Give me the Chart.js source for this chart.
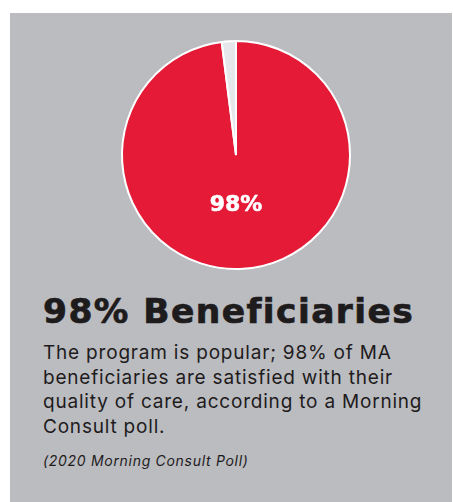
<!DOCTYPE html>
<html>
<head>
<meta charset="utf-8">
<script src="https://cdn.jsdelivr.net/npm/chart.js@4/dist/chart.umd.min.js"></script>
<style>
  html, body { margin: 0; padding: 0; background: #ffffff; width: 453px; height: 502px; overflow: hidden; }
  #panel { position: absolute; left: 10px; top: 13px; width: 442px; height: 489px; background: #bbbcc0; }
  #chartBox { position: absolute; left: 116px; top: 35px; width: 240px; height: 240px; }
  #title { position: absolute; left: 43px; top: 291px; margin: 0; font-family: "DejaVu Sans", sans-serif; font-weight: 700; font-size: 34.5px; line-height: 40px; color: #1e1b1c; letter-spacing: 1.4px; -webkit-text-stroke: 0.7px #1e1b1c; white-space: nowrap; }
  #desc { position: absolute; left: 43px; top: 341px; width: 410px; margin: 0; font-family: Inter, "Liberation Sans", sans-serif; font-weight: 400; font-size: 19px; line-height: 24.5px; color: #1e1b1c; letter-spacing: 0.8px; white-space: nowrap; }
  #source { position: absolute; left: 43px; top: 453px; margin: 0; font-family: Inter, "Liberation Sans", sans-serif; font-style: italic; font-size: 14px; line-height: 16px; color: #1e1b1c; letter-spacing: 0.7px; }
</style>
</head>
<body>
<div id="panel"></div>
<div id="chartBox"><canvas id="c"></canvas></div>
<h1 id="title">98% Beneficiaries</h1>
<p id="desc">The program is popular; 98% of MA<br>beneficiaries are satisfied with their<br>quality of care, according to a Morning<br>Consult poll.</p>
<p id="source">(2020 Morning Consult Poll)</p>
<script>
const categories = ["Satisfied", "Not satisfied"];
const values = [98, 2];
const sliceLabels = ["98%", ""];
const sliceColors = ["#e41a37", "#e6e7ea"];

const labelPlugin = {
  id: "sliceLabels",
  afterDatasetsDraw(chart) {
    const ctx = chart.ctx;
    const meta = chart.getDatasetMeta(0);
    meta.data.forEach((arc, i) => {
      const text = sliceLabels[i];
      if (!text) return;
      const x = arc.x;
      const y = arc.y + arc.outerRadius * 0.44;
      ctx.save();
      ctx.fillStyle = "#ffffff";
      ctx.strokeStyle = "#ffffff";
      ctx.lineWidth = 0.6;
      ctx.font = "700 22px 'DejaVu Sans', sans-serif";
      ctx.textAlign = "center";
      ctx.textBaseline = "middle";
      ctx.fillText(text, x, y);
      ctx.strokeText(text, x, y);
      ctx.restore();
    });
  }
};

new Chart(document.getElementById("c"), {
  type: "pie",
  data: {
    labels: categories,
    datasets: [{
      data: values,
      backgroundColor: sliceColors,
      borderColor: "#ffffff",
      borderWidth: 2
    }]
  },
  options: {
    responsive: true,
    maintainAspectRatio: false,
    animation: false,
    layout: { padding: 5 },
    plugins: {
      legend: { display: false },
      tooltip: { enabled: false }
    }
  },
  plugins: [labelPlugin]
});
</script>
</body>
</html>
